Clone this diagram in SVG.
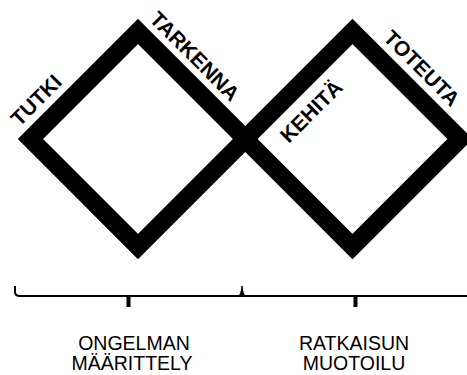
<svg xmlns="http://www.w3.org/2000/svg" width="467" height="375" viewBox="0 0 467 375">
<style>
.dia{fill:none;stroke:#000;stroke-width:18;stroke-linejoin:miter;stroke-miterlimit:10}
.lbl{font-family:"Liberation Sans",Arial,sans-serif;font-weight:bold;font-size:21px;fill:#000;text-anchor:middle}
.cap{font-family:"Liberation Sans",Arial,sans-serif;font-size:19.5px;fill:#000;text-anchor:middle}
.br{fill:none;stroke:#000;stroke-width:2}
</style>
<rect width="467" height="375" fill="#fff"/>
<g id="diamond-left">
<polygon class="dia" points="138,31.5 245.5,139 138,246.5 30.5,139"/>
</g>
<g id="diamond-right">
<polygon class="dia" points="352.5,31.5 460,139 352.5,246.5 245,139"/>
</g>
<g id="label-tutki"><text class="lbl" transform="translate(36,100) rotate(-45)" y="7.5">TUTKI</text></g>
<g id="label-tarkenna"><text class="lbl" transform="translate(195,56) rotate(45)" y="7.5">TARKENNA</text></g>
<g id="label-kehita"><text class="lbl" transform="translate(311,111) rotate(-45)" y="7.5">KEHITÄ</text></g>
<g id="label-toteuta"><text class="lbl" transform="translate(422,68) rotate(45)" y="7.5">TOTEUTA</text></g>
<g id="connectors">
<path class="br" d="M15,286 L15,292 Q15,296 20,296 L467,296"/>
<path d="M238,296 Q241,294 241.3,286 L242.7,286 Q243,294 246,296 Z" fill="#000"/>
<rect x="126.5" y="296" width="4" height="11" fill="#000"/>
<rect x="353.5" y="296" width="4" height="11" fill="#000"/>
</g>
<g id="caption-left">
<text class="cap" x="134" y="350">ONGELMAN</text>
<text class="cap" x="132" y="370">MÄÄRITTELY</text>
</g>
<g id="caption-right">
<text class="cap" x="354" y="350">RATKAISUN</text>
<text class="cap" x="354" y="370">MUOTOILU</text>
</g>
</svg>
